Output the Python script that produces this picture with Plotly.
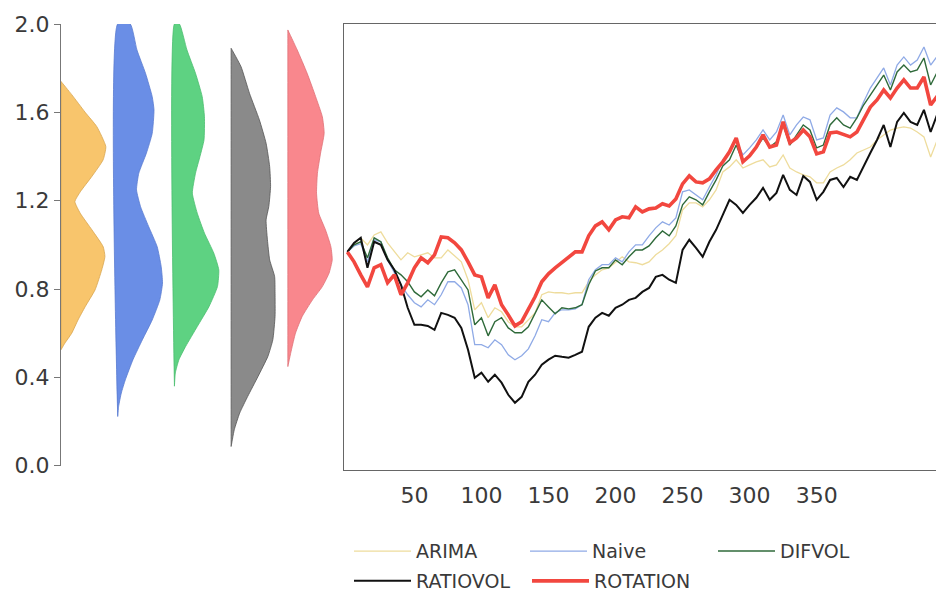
import plotly.graph_objects as go

# ---------------- data ----------------
t_index = list(range(0, 445, 5))

arima = [0.968, 1.005, 1.032, 1.000, 1.045, 1.059, 1.009, 0.968, 0.932, 0.964,
         0.946, 0.955, 0.964, 0.941, 0.941, 0.977, 0.950, 0.923, 0.842, 0.706,
         0.738, 0.670, 0.715, 0.697, 0.652, 0.629, 0.629, 0.661, 0.692, 0.774,
         0.787, 0.783, 0.783, 0.778, 0.783, 0.783, 0.833, 0.864, 0.887, 0.896,
         0.923, 0.946, 0.923, 0.919, 0.910, 0.923, 0.955, 0.977, 1.005, 1.041,
         1.158, 1.190, 1.190, 1.172, 1.204, 1.249, 1.330, 1.353, 1.385, 1.348,
         1.362, 1.376, 1.385, 1.353, 1.362, 1.407, 1.348, 1.330, 1.317, 1.308,
         1.281, 1.281, 1.330, 1.348, 1.362, 1.385, 1.416, 1.430, 1.443, 1.475,
         1.498, 1.520, 1.529, 1.534, 1.529, 1.511, 1.489, 1.398, 1.475]

naive = [0.968, 0.995, 1.005, 0.923, 1.023, 1.014, 0.932, 0.878, 0.819, 0.774,
         0.738, 0.719, 0.751, 0.729, 0.774, 0.833, 0.833, 0.805, 0.729, 0.548,
         0.548, 0.534, 0.570, 0.548, 0.502, 0.480, 0.498, 0.529, 0.588, 0.661,
         0.652, 0.692, 0.706, 0.706, 0.710, 0.729, 0.842, 0.887, 0.910, 0.910,
         0.941, 0.923, 0.968, 1.000, 1.000, 1.041, 1.077, 1.104, 1.090, 1.122,
         1.240, 1.249, 1.226, 1.204, 1.262, 1.317, 1.385, 1.421, 1.475, 1.407,
         1.439, 1.475, 1.520, 1.475, 1.511, 1.588, 1.498, 1.543, 1.579, 1.566,
         1.475, 1.484, 1.588, 1.620, 1.602, 1.575, 1.575, 1.647, 1.710, 1.756,
         1.801, 1.724, 1.814, 1.851, 1.814, 1.837, 1.896, 1.814, 1.855]

difvol = [0.968, 1.000, 1.014, 0.941, 1.032, 1.014, 0.941, 0.887, 0.864, 0.833,
          0.787, 0.765, 0.796, 0.769, 0.828, 0.878, 0.887, 0.842, 0.796, 0.638,
          0.670, 0.588, 0.652, 0.670, 0.624, 0.602, 0.602, 0.629, 0.688, 0.751,
          0.719, 0.688, 0.715, 0.710, 0.715, 0.729, 0.819, 0.882, 0.896, 0.896,
          0.932, 0.910, 0.946, 0.977, 0.977, 0.995, 1.032, 1.063, 1.041, 1.086,
          1.181, 1.217, 1.204, 1.181, 1.240, 1.294, 1.357, 1.385, 1.452, 1.376,
          1.407, 1.439, 1.484, 1.443, 1.466, 1.543, 1.452, 1.498, 1.543, 1.520,
          1.439, 1.452, 1.543, 1.575, 1.543, 1.529, 1.575, 1.633, 1.679, 1.724,
          1.769, 1.701, 1.783, 1.814, 1.783, 1.792, 1.846, 1.724, 1.783]

ratiovol = [0.968, 1.009, 1.032, 0.896, 1.014, 1.000, 0.932, 0.887, 0.819, 0.715,
            0.638, 0.638, 0.633, 0.615, 0.692, 0.683, 0.670, 0.624, 0.525, 0.398,
            0.421, 0.380, 0.412, 0.376, 0.321, 0.285, 0.312, 0.380, 0.412, 0.457,
            0.480, 0.498, 0.493, 0.489, 0.502, 0.516, 0.629, 0.670, 0.692, 0.679,
            0.715, 0.729, 0.751, 0.760, 0.787, 0.805, 0.855, 0.864, 0.842, 0.828,
            0.977, 1.023, 0.986, 0.946, 1.014, 1.068, 1.136, 1.204, 1.181, 1.145,
            1.181, 1.213, 1.258, 1.204, 1.235, 1.317, 1.249, 1.226, 1.312, 1.285,
            1.204, 1.240, 1.294, 1.303, 1.262, 1.308, 1.294, 1.357, 1.416, 1.475,
            1.543, 1.443, 1.557, 1.597, 1.557, 1.543, 1.611, 1.511, 1.593]

rotation = [0.968, 0.923, 0.864, 0.810, 0.896, 0.910, 0.828, 0.864, 0.774, 0.828,
            0.896, 0.941, 0.919, 0.955, 1.036, 1.032, 1.009, 0.977, 0.923, 0.864,
            0.855, 0.760, 0.819, 0.729, 0.683, 0.633, 0.652, 0.706, 0.765, 0.833,
            0.869, 0.896, 0.919, 0.946, 0.968, 0.968, 1.041, 1.086, 1.104, 1.068,
            1.113, 1.127, 1.122, 1.172, 1.149, 1.163, 1.167, 1.186, 1.176, 1.208,
            1.276, 1.312, 1.285, 1.281, 1.299, 1.339, 1.376, 1.421, 1.484, 1.376,
            1.403, 1.443, 1.498, 1.443, 1.452, 1.557, 1.462, 1.484, 1.520, 1.489,
            1.412, 1.421, 1.507, 1.511, 1.502, 1.489, 1.511, 1.566, 1.624, 1.656,
            1.701, 1.665, 1.710, 1.747, 1.710, 1.710, 1.760, 1.633, 1.674]

# density profiles (value level, relative density) read from the half-violins
arima_kde_y = [0.525, 0.556, 0.60, 0.66, 0.72, 0.796, 0.887, 0.947, 0.992, 1.068,
               1.143, 1.196, 1.24, 1.31, 1.385, 1.445, 1.535, 1.60, 1.68, 1.74]
arima_kde_d = [0, 0.09, 0.24, 0.38, 0.54, 0.76, 0.91, 0.98, 0.94, 0.69,
               0.43, 0.31, 0.43, 0.69, 0.94, 1.0, 0.80, 0.54, 0.24, 0]

naive_kde_y = [0.223, 0.268, 0.329, 0.389, 0.48, 0.57, 0.66, 0.751, 0.827, 0.902, 0.992,
               1.083, 1.173, 1.249, 1.324, 1.415, 1.505, 1.611, 1.671, 1.777, 1.882, 2.0]
naive_kde_d = [0, 0.02, 0.08, 0.17, 0.34, 0.55, 0.77, 0.94, 1.0, 0.97, 0.88,
               0.69, 0.51, 0.42, 0.47, 0.64, 0.77, 0.81, 0.77, 0.62, 0.43, 0.28]

difvol_kde_y = [0.36, 0.42, 0.48, 0.54, 0.63, 0.72, 0.811, 0.887, 0.962, 1.053,
                1.143, 1.234, 1.324, 1.40, 1.475, 1.58, 1.671, 1.777, 1.882, 2.0]
difvol_kde_d = [0, 0.02, 0.10, 0.25, 0.51, 0.77, 0.96, 0.99, 0.88, 0.67,
                0.51, 0.40, 0.47, 0.57, 0.66, 0.67, 0.62, 0.47, 0.28, 0.11]

ratiovol_kde_y = [0.087, 0.163, 0.238, 0.314, 0.404, 0.495, 0.57, 0.676, 0.781, 0.857, 0.932,
                  1.023, 1.113, 1.173, 1.264, 1.354, 1.46, 1.566, 1.686, 1.807, 1.89]
ratiovol_kde_d = [0, 0.07, 0.19, 0.37, 0.60, 0.82, 0.93, 0.98, 0.98, 0.97, 0.86,
                  0.81, 0.78, 0.84, 0.88, 0.86, 0.78, 0.63, 0.41, 0.22, 0]

rotation_kde_y = [0.449, 0.525, 0.60, 0.676, 0.751, 0.811, 0.872, 0.932, 0.992, 1.068,
                  1.143, 1.234, 1.324, 1.415, 1.505, 1.58, 1.671, 1.777, 1.882, 1.973]
rotation_kde_d = [0, 0.08, 0.17, 0.32, 0.55, 0.77, 0.92, 0.99, 0.96, 0.84,
                  0.69, 0.64, 0.66, 0.73, 0.81, 0.77, 0.62, 0.43, 0.21, 0]

series_names = ["ARIMA", "Naive", "DIFVOL", "RATIOVOL", "ROTATION"]
y_ticks = [0.0, 0.4, 0.8, 1.2, 1.6, 2.0]
x_ticks = [50, 100, 150, 200, 250, 300, 350]

# ---------------- styling ----------------
FONT = "DejaVu Sans"
TXT = "#3a3a3a"
violin_fill = ["#F8C56C", "#6A8EE6", "#5ED282", "#8A8A8A", "#F9878D"]
violin_edge = ["#D8A650", "#5A7CD0", "#4BBE70", "#555555", "#E07076"]
line_colors = ["#EEDC9C", "#8FAAE6", "#2F6A3A", "#111111", "#F2473F"]
line_widths = [1.3, 1.3, 1.4, 2.0, 3.6]
WMAX = 0.79

fig = go.Figure()

profiles = [(arima_kde_y, arima_kde_d), (naive_kde_y, naive_kde_d),
            (difvol_kde_y, difvol_kde_d), (ratiovol_kde_y, ratiovol_kde_d),
            (rotation_kde_y, rotation_kde_d)]
for i, (ys, ds) in enumerate(profiles):
    xs = [i] + [i + WMAX * d for d in ds] + [i, i]
    yy = [ys[0]] + list(ys) + [ys[-1], ys[0]]
    fig.add_trace(go.Scatter(
        x=xs, y=yy, mode="lines", fill="toself",
        fillcolor=violin_fill[i],
        line=dict(color=violin_edge[i], width=0.8, shape="spline", smoothing=0.5),
        xaxis="x", yaxis="y", showlegend=False, hoverinfo="skip"))

all_series = [arima, naive, difvol, ratiovol, rotation]
legend_ids = ["legend", "legend2", "legend3", "legend4", "legend5"]
for i, s in enumerate(all_series):
    fig.add_trace(go.Scatter(
        x=t_index, y=s, mode="lines", name=series_names[i],
        line=dict(color=line_colors[i], width=line_widths[i]),
        xaxis="x2", yaxis="y2", legend=legend_ids[i]))

L, R, T, B = 61, 0, 24, 120
W, H = 936, 600
pw = W - L - R
ph = H - T - B
split = (344 - L) / pw
zero_px = 475.6          # pixel row of value 0.0
zero_frac = (H - B - zero_px) / ph

# legend entry text starts (px) and row centres (px)
legend_text_x = [416, 592, 780, 416, 594]
legend_row_y = [563, 563, 563, 594, 594]

layout_legends = {}
for i, lid in enumerate(legend_ids):
    layout_legends[lid] = dict(
        orientation="h", x=(legend_text_x[i] - 67 - L) / pw, xanchor="left",
        y=(H - B - legend_row_y[i]) / ph, yanchor="middle", itemwidth=57,
        font=dict(size=19, color=TXT), bgcolor="rgba(0,0,0,0)")

fig.update_layout(
    width=W, height=H,
    margin=dict(l=L, r=R, t=T, b=B, pad=0),
    paper_bgcolor="white", plot_bgcolor="white",
    font=dict(family=FONT, color=TXT, size=20),
    xaxis=dict(domain=[0, split], range=[0, 4.99], visible=False, fixedrange=True),
    yaxis=dict(domain=[zero_frac, 1], range=[0, 2.0], tickvals=y_ticks,
               tickformat=".1f", showline=True, linecolor="#777", linewidth=1,
               ticks="outside", ticklen=6, tickcolor="#777", showgrid=False,
               zeroline=False, tickfont=dict(size=22, color=TXT)),
    xaxis2=dict(domain=[split, 1], range=[-2.5, 439], tickvals=x_ticks,
                showline=True, mirror=True, linecolor="#666", linewidth=1,
                ticks="outside", ticklen=6, tickcolor="rgba(0,0,0,0)",
                showgrid=False, zeroline=False, anchor="y2",
                tickfont=dict(size=22, color=TXT)),
    yaxis2=dict(domain=[0, 1], range=[-zero_frac * 2.0 / (1 - zero_frac), 2.0],
                anchor="x2", showline=True, linecolor="#666", linewidth=1,
                showticklabels=False, ticks="", showgrid=False, zeroline=False),
    **layout_legends,
)

fig.write_html("out.html", config={"displayModeBar": False},
               post_script="document.body.style.margin='0';document.body.style.overflow='hidden';")
